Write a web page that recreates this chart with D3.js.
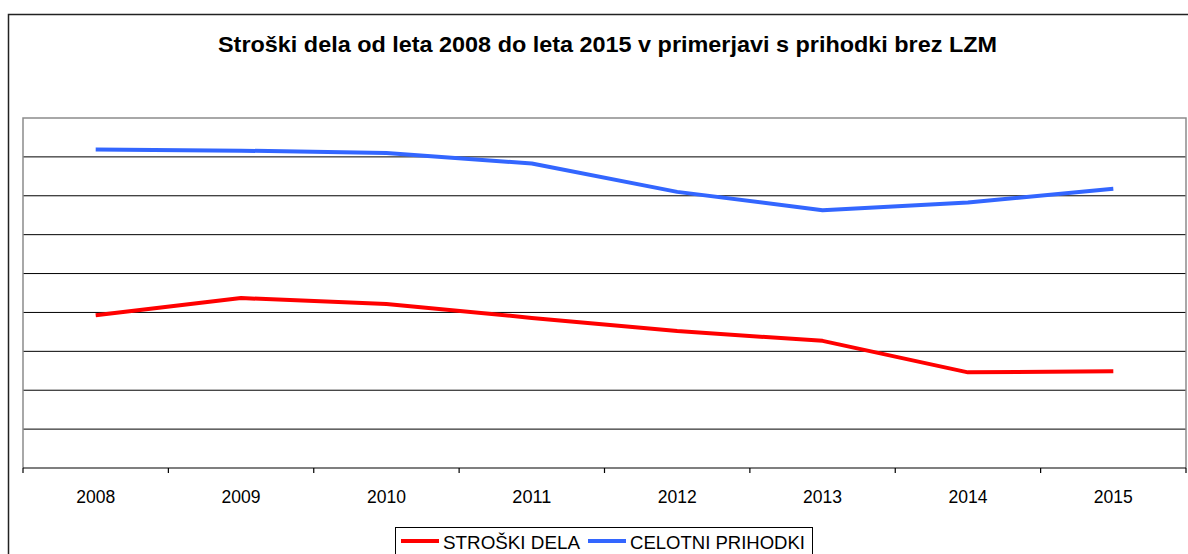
<!DOCTYPE html>
<html>
<head>
<meta charset="utf-8">
<script src="https://cdn.jsdelivr.net/npm/d3@7"></script>
<style>
  body { margin: 0; background: #fff; }
  svg { display: block; font-family: "Liberation Sans", Arial, sans-serif; }
</style>
</head>
<body>
<svg width="1188" height="554"></svg>
<script>
// podatki (vrednosti odčitane s slike, os Y nima oznak)
const leta = ["2008", "2009", "2010", "2011", "2012", "2013", "2014", "2015"];
const stroskiDela = [3.93, 4.37, 4.22, 3.86, 3.52, 3.27, 2.46, 2.49];
const celotniPrihodki = [8.19, 8.16, 8.10, 7.83, 7.10, 6.63, 6.83, 7.18];
const yTicks = [0, 1, 2, 3, 4, 5, 6, 7, 8, 9];
const naslov = "Stroški dela od leta 2008 do leta 2015 v primerjavi s prihodki brez LZM";

const serije = [
  { ime: "STROŠKI DELA", barva: "#ff0000", vrednosti: stroskiDela },
  { ime: "CELOTNI PRIHODKI", barva: "#3366ff", vrednosti: celotniPrihodki }
];

const svg = d3.select("svg");

// zunanji okvir (desno in spodaj izven slike)
svg.append("rect")
  .attr("x", 8.5).attr("y", 14.5)
  .attr("width", 1200).attr("height", 560)
  .attr("fill", "none")
  .attr("stroke", "#222")
  .attr("stroke-width", 1.5);

// naslov - pisava v izvirniku je nekoliko razširjena
svg.append("text")
  .attr("x", 218).attr("y", 52)
  .attr("font-size", 21.5)
  .attr("font-weight", "bold")
  .attr("textLength", 779)
  .attr("lengthAdjust", "spacingAndGlyphs")
  .text(naslov);

// območje grafa
const plot = { left: 23, right: 1186, top: 118, bottom: 468 };

const x = d3.scaleBand()
  .domain(leta)
  .range([plot.left, plot.right])
  .padding(0);

const y = d3.scaleLinear()
  .domain([0, 9])
  .range([plot.bottom, plot.top]);

// mreža
svg.append("g")
  .selectAll("line")
  .data(yTicks.filter(t => t > 0 && t < 9))
  .join("line")
  .attr("x1", plot.left).attr("x2", plot.right)
  .attr("y1", d => y(d)).attr("y2", d => y(d))
  .attr("stroke", "#000")
  .attr("stroke-width", 1);

// okvir grafa (siv)
svg.append("path")
  .attr("d", `M${plot.left},${plot.bottom}V${plot.top}H${plot.right}V${plot.bottom}`)
  .attr("fill", "none")
  .attr("stroke", "#8c8c8c")
  .attr("stroke-width", 1.5);

// os X z oznakami med kategorijami
const os = svg.append("g");
os.append("line")
  .attr("x1", plot.left).attr("x2", plot.right)
  .attr("y1", plot.bottom).attr("y2", plot.bottom)
  .attr("stroke", "#000").attr("stroke-width", 1.2);

const robovi = leta.map(d => x(d)).concat([x(leta[leta.length - 1]) + x.bandwidth()]);
os.selectAll("line.tick")
  .data(robovi)
  .join("line")
  .attr("class", "tick")
  .attr("x1", d => d).attr("x2", d => d)
  .attr("y1", plot.bottom).attr("y2", plot.bottom + 5)
  .attr("stroke", "#000").attr("stroke-width", 1.2);

os.selectAll("text")
  .data(leta)
  .join("text")
  .attr("x", d => x(d) + x.bandwidth() / 2)
  .attr("y", 503)
  .attr("text-anchor", "middle")
  .attr("font-size", 18)
  .attr("textLength", 39)
  .attr("lengthAdjust", "spacingAndGlyphs")
  .text(d => d);

// črte
const crta = d3.line()
  .x((d, i) => x(leta[i]) + x.bandwidth() / 2)
  .y(d => y(d));

svg.append("g")
  .selectAll("path")
  .data(serije)
  .join("path")
  .attr("d", d => crta(d.vrednosti))
  .attr("fill", "none")
  .attr("stroke", d => d.barva)
  .attr("stroke-width", 4)
  .attr("stroke-linejoin", "round");

// legenda
const leg = svg.append("g");
leg.append("rect")
  .attr("x", 395.5).attr("y", 527.5)
  .attr("width", 417).attr("height", 40)
  .attr("fill", "#fff")
  .attr("stroke", "#000")
  .attr("stroke-width", 1);

const legX = [401, 588];
const legSirina = [137, 175];
serije.forEach((s, i) => {
  leg.append("line")
    .attr("x1", legX[i]).attr("x2", legX[i] + 38)
    .attr("y1", 541).attr("y2", 541)
    .attr("stroke", s.barva)
    .attr("stroke-width", 4);
  leg.append("text")
    .attr("x", legX[i] + 42)
    .attr("y", 548.5)
    .attr("font-size", 18)
    .attr("textLength", legSirina[i])
    .attr("lengthAdjust", "spacingAndGlyphs")
    .text(s.ime);
});
</script>
</body>
</html>
